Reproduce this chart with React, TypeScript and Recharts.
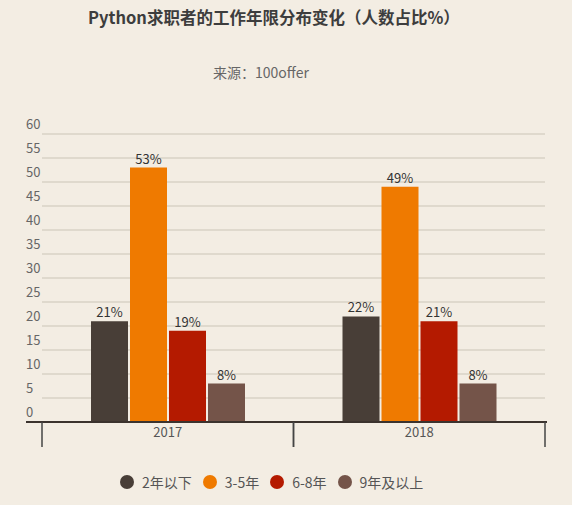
import React from 'react';
import {
  BarChart, Bar, XAxis, YAxis, CartesianGrid, Legend, LabelList
} from 'recharts';

// Datos del gráfico
const anios = ['2017', '2018'];
const menos2 = [21, 22];
const de3a5 = [53, 49];
const de6a8 = [19, 21];
const mas9 = [8, 8];
const yTicks = [0, 5, 10, 15, 20, 25, 30, 35, 40, 45, 50, 55, 60];
const series = [
  { key: 'a', nombre: '2年以下', color: '#483e37' },
  { key: 'b', nombre: '3-5年', color: '#ef7a00' },
  { key: 'c', nombre: '6-8年', color: '#b41a00' },
  { key: 'd', nombre: '9年及以上', color: '#745449' },
];

const datos = anios.map((anio, i) => ({
  anio,
  a: menos2[i],
  b: de3a5[i],
  c: de6a8[i],
  d: mas9[i],
}));

const FUENTE = '"Noto Sans CJK SC", "Noto Sans", sans-serif';

const YTick = (props: any) => {
  const { y, payload } = props;
  return (
    <text x={26} y={y - 9} fill="#666" fontSize={13} fontFamily={FUENTE} textAnchor="start" dominantBaseline="middle">
      {payload.value}
    </text>
  );
};

// etiqueta del año + marcas verticales en los bordes de la categoría
const XTick = (props: any) => {
  const { x, y, payload } = props;
  const medio = payload && payload.offset ? payload.offset : 0;
  return (
    <g>
      <line x1={x - medio} x2={x - medio} y1={y} y2={y + 25} stroke="#444" strokeWidth={1.5} />
      <line x1={x + medio} x2={x + medio} y1={y} y2={y + 25} stroke="#444" strokeWidth={1.5} />
      <text x={x} y={y + 15} fill="#555" fontSize={13} fontFamily={FUENTE} textAnchor="middle">
        {payload.value}
      </text>
    </g>
  );
};

const LeyendaCustom = (props: any) => {
  const { payload } = props;
  return (
    <div style={{ display: 'flex', alignItems: 'center', marginLeft: 120, fontFamily: FUENTE, fontSize: 14, color: '#555' }}>
      {(payload || []).map((item: any, i: number) => (
        <div key={i} style={{ display: 'flex', alignItems: 'center', marginRight: 11 }}>
          <span style={{ width: 14, height: 14, borderRadius: '50%', background: item.color, marginRight: 8, display: 'inline-block' }} />
          <span>{item.value}</span>
        </div>
      ))}
    </div>
  );
};

const App: React.FC = () => {
  return (
    <div style={{ position: 'absolute', left: 0, top: 0, width: 572, height: 505, background: '#f3ede3', fontFamily: FUENTE }}>
      <div style={{ position: 'absolute', left: 88, top: 5, fontSize: 16.5, fontWeight: 700, color: '#3d3d3d', whiteSpace: 'nowrap' }}>
        Python求职者的工作年限分布变化（人数占比%）
      </div>
      <div style={{ position: 'absolute', left: 213, top: 62, fontSize: 14, color: '#666', whiteSpace: 'nowrap' }}>
        来源：100offer
      </div>
      <BarChart
        width={572}
        height={505}
        data={datos}
        margin={{ top: 134, right: 25, left: 0, bottom: 26 }}
        barSize={37}
        barGap={2}
      >
        <CartesianGrid vertical={false} stroke="#d9d2c6" strokeWidth={1.5} x={42} width={503} />
        <XAxis
          dataKey="anio"
          height={31}
          padding={{ left: 16, right: 2 }}
          axisLine={{ stroke: '#3b332e', strokeWidth: 2 }}
          tickLine={false}
          tickSize={0}
          tickMargin={0}
          interval={0}
          tick={<XTick />}
        />
        <YAxis
          domain={[0, 60]}
          ticks={yTicks}
          width={26}
          axisLine={false}
          tickLine={false}
          tick={<YTick />}
        />
        <Legend
          content={<LeyendaCustom />}
          wrapperStyle={{ position: 'absolute', left: 0, top: 472, width: 572, height: 26 }}
        />
        {series.map(s => (
          <Bar key={s.key} dataKey={s.key} name={s.nombre} fill={s.color} isAnimationActive={false}>
            <LabelList
              dataKey={s.key}
              position="top"
              offset={4}
              formatter={(v: any) => `${v}%`}
              style={{ fill: '#333', fontSize: 13, fontFamily: FUENTE }}
            />
          </Bar>
        ))}
      </BarChart>
    </div>
  );
};

export default App;
